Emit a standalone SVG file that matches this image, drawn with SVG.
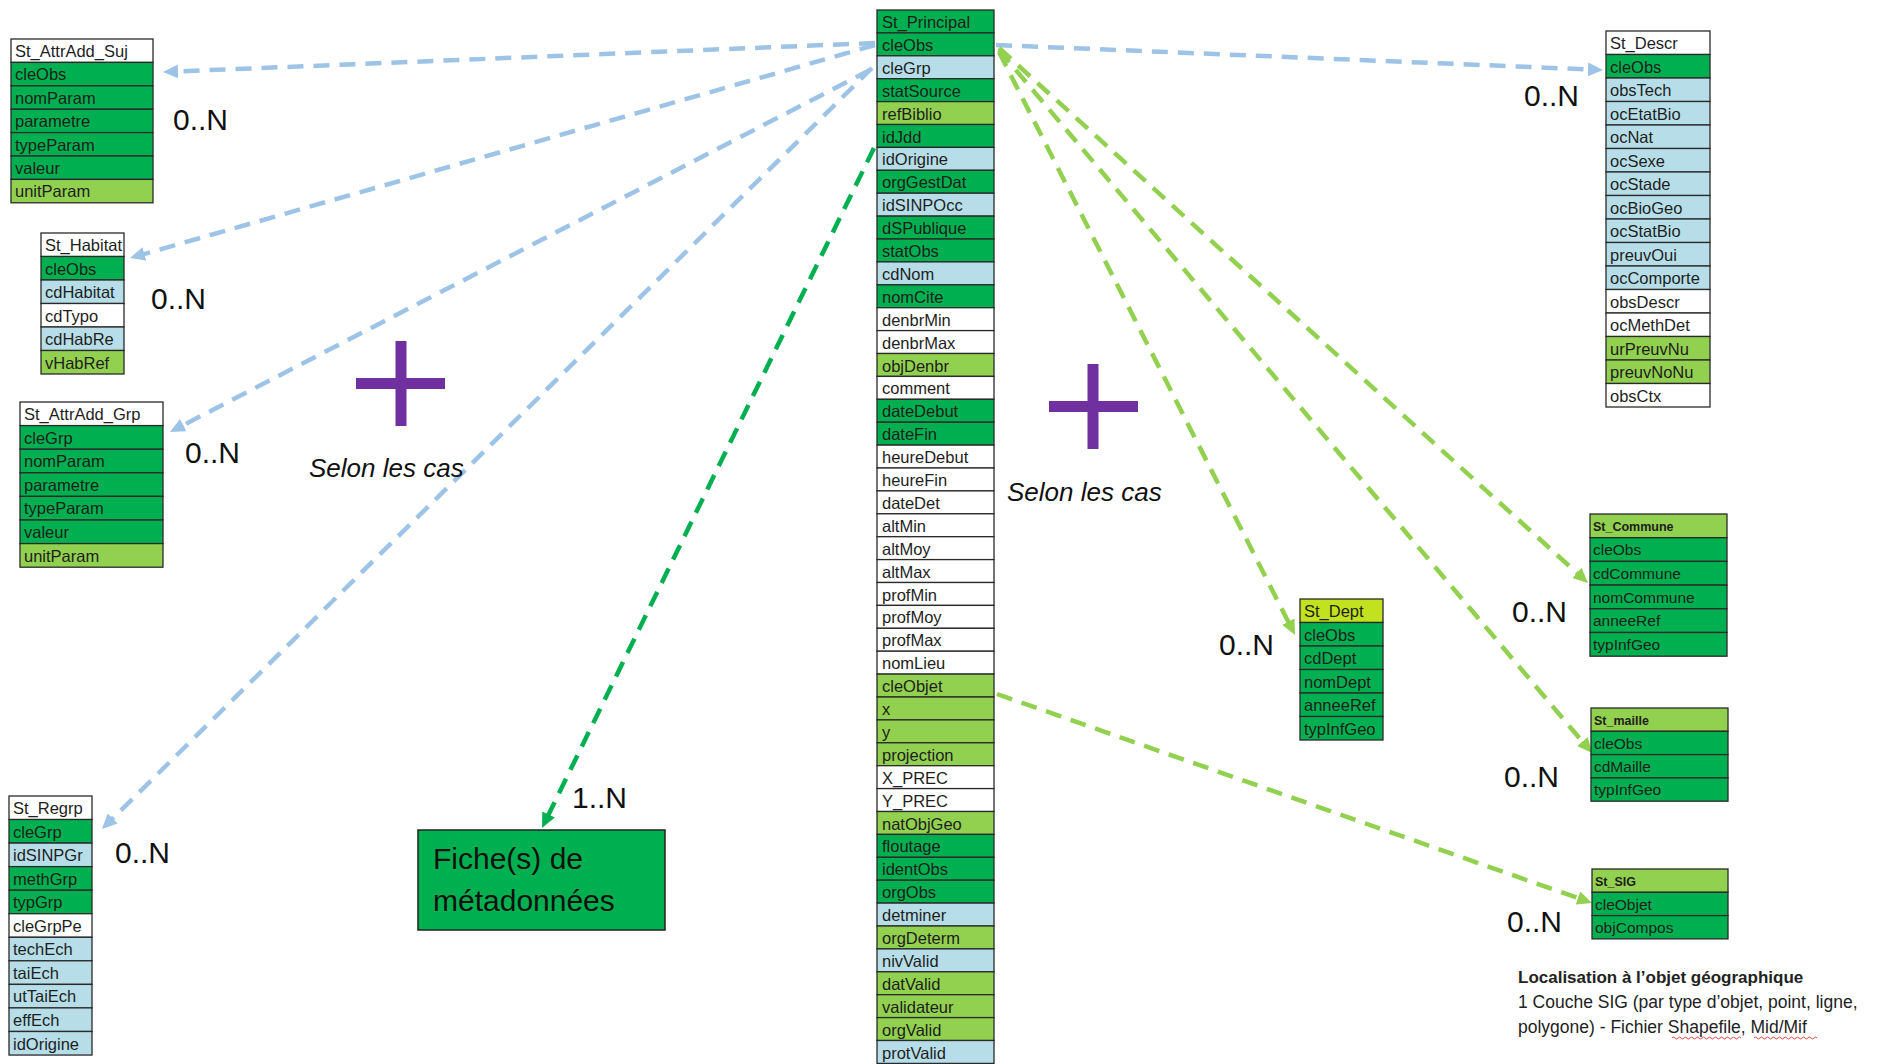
<svg xmlns="http://www.w3.org/2000/svg" width="1885" height="1064" viewBox="0 0 1885 1064">
<style>
.c rect{stroke:#2a2a2a;stroke-width:1.3}
.dg{fill:#00B050}.lg{fill:#92D050}.lb{fill:#B7DEE8}.wh{fill:#ffffff}.yg{fill:#C2E21F}
.c text{font-family:"Liberation Sans",Arial,sans-serif;font-size:16.5px;fill:#1e1e1e}
.k text{font-size:15.5px}
.k text.h{font-weight:bold;font-size:12.5px}
.card{font-family:"Liberation Sans",Arial,sans-serif;font-size:30px;fill:#111}
.sel{font-family:"Liberation Sans",Arial,sans-serif;font-size:26px;font-style:italic;fill:#111}
.plus{fill:#7030A0}
.bl{stroke:#9DC3E6;stroke-width:4.5;stroke-dasharray:16 10;fill:none}
.gr{stroke:#92D050;stroke-width:4.5;stroke-dasharray:16 10;fill:none}
.dk{stroke:#00B050;stroke-width:4.5;stroke-dasharray:16 10;fill:none}
.note{font-family:"Liberation Sans",Arial,sans-serif;font-size:17.5px;fill:#222}
</style>
<defs>
<marker id="ab" markerUnits="userSpaceOnUse" markerWidth="16" markerHeight="14" refX="5" refY="7" orient="auto"><path d="M0,0 L15,7 L0,14 Z" fill="#9DC3E6"/></marker>
<marker id="ag" markerUnits="userSpaceOnUse" markerWidth="16" markerHeight="14" refX="5" refY="7" orient="auto"><path d="M0,0 L15,7 L0,14 Z" fill="#92D050"/></marker>
<marker id="ad" markerUnits="userSpaceOnUse" markerWidth="16" markerHeight="14" refX="5" refY="7" orient="auto"><path d="M0,0 L15,7 L0,14 Z" fill="#00B050"/></marker>
</defs>
<rect width="1885" height="1064" fill="#ffffff"/>

<g id="connectors">
<line class="bl" x1="875" y1="43" x2="173" y2="71.6" marker-end="url(#ab)"/>
<line class="bl" x1="875" y1="45" x2="139.6" y2="255.3" marker-end="url(#ab)"/>
<line class="bl" x1="870" y1="70" x2="178.9" y2="427.4" marker-end="url(#ab)"/>
<line class="bl" x1="872" y1="68" x2="109.1" y2="822" marker-end="url(#ab)"/>
<line class="bl" x1="996" y1="45" x2="1593" y2="69.6" marker-end="url(#ab)"/>
<line class="gr" x1="999" y1="52" x2="1290.5" y2="626.1" marker-end="url(#ag)"/>
<line class="gr" x1="999" y1="48" x2="1580.6" y2="576.3" marker-end="url(#ag)"/>
<line class="gr" x1="999" y1="50" x2="1585.6" y2="745.4" marker-end="url(#ag)"/>
<line class="gr" x1="997" y1="694" x2="1582.6" y2="899.7" marker-end="url(#ag)"/>
<line class="dk" x1="874" y1="148" x2="546.4" y2="819" marker-end="url(#ad)"/>
</g>

<g id="St_Principal" class="c">
<rect class="dg" x="877" y="10" width="117" height="22.9"/><text x="882" y="28">St_Principal</text>
<rect class="dg" x="877" y="32.9" width="117" height="22.9"/><text x="882" y="50.9">cleObs</text>
<rect class="lb" x="877" y="55.8" width="117" height="22.9"/><text x="882" y="73.8">cleGrp</text>
<rect class="dg" x="877" y="78.7" width="117" height="22.9"/><text x="882" y="96.7">statSource</text>
<rect class="lg" x="877" y="101.6" width="117" height="22.9"/><text x="882" y="119.6">refBiblio</text>
<rect class="dg" x="877" y="124.5" width="117" height="22.9"/><text x="882" y="142.5">idJdd</text>
<rect class="lb" x="877" y="147.4" width="117" height="22.9"/><text x="882" y="165.4">idOrigine</text>
<rect class="dg" x="877" y="170.3" width="117" height="22.9"/><text x="882" y="188.3">orgGestDat</text>
<rect class="lb" x="877" y="193.2" width="117" height="22.9"/><text x="882" y="211.2">idSINPOcc</text>
<rect class="dg" x="877" y="216.1" width="117" height="22.9"/><text x="882" y="234.1">dSPublique</text>
<rect class="dg" x="877" y="239" width="117" height="22.9"/><text x="882" y="257">statObs</text>
<rect class="lb" x="877" y="261.9" width="117" height="22.9"/><text x="882" y="279.9">cdNom</text>
<rect class="dg" x="877" y="284.8" width="117" height="22.9"/><text x="882" y="302.8">nomCite</text>
<rect class="wh" x="877" y="307.7" width="117" height="22.9"/><text x="882" y="325.7">denbrMin</text>
<rect class="wh" x="877" y="330.6" width="117" height="22.9"/><text x="882" y="348.6">denbrMax</text>
<rect class="lg" x="877" y="353.5" width="117" height="22.9"/><text x="882" y="371.5">objDenbr</text>
<rect class="wh" x="877" y="376.4" width="117" height="22.9"/><text x="882" y="394.4">comment</text>
<rect class="dg" x="877" y="399.3" width="117" height="22.9"/><text x="882" y="417.3">dateDebut</text>
<rect class="dg" x="877" y="422.2" width="117" height="22.9"/><text x="882" y="440.2">dateFin</text>
<rect class="wh" x="877" y="445.1" width="117" height="22.9"/><text x="882" y="463.1">heureDebut</text>
<rect class="wh" x="877" y="468" width="117" height="22.9"/><text x="882" y="486">heureFin</text>
<rect class="wh" x="877" y="490.9" width="117" height="22.9"/><text x="882" y="508.9">dateDet</text>
<rect class="wh" x="877" y="513.8" width="117" height="22.9"/><text x="882" y="531.8">altMin</text>
<rect class="wh" x="877" y="536.7" width="117" height="22.9"/><text x="882" y="554.7">altMoy</text>
<rect class="wh" x="877" y="559.6" width="117" height="22.9"/><text x="882" y="577.6">altMax</text>
<rect class="wh" x="877" y="582.5" width="117" height="22.9"/><text x="882" y="600.5">profMin</text>
<rect class="wh" x="877" y="605.4" width="117" height="22.9"/><text x="882" y="623.4">profMoy</text>
<rect class="wh" x="877" y="628.3" width="117" height="22.9"/><text x="882" y="646.3">profMax</text>
<rect class="wh" x="877" y="651.2" width="117" height="22.9"/><text x="882" y="669.2">nomLieu</text>
<rect class="lg" x="877" y="674.1" width="117" height="22.9"/><text x="882" y="692.1">cleObjet</text>
<rect class="lg" x="877" y="697" width="117" height="22.9"/><text x="882" y="715">x</text>
<rect class="lg" x="877" y="719.9" width="117" height="22.9"/><text x="882" y="737.9">y</text>
<rect class="lg" x="877" y="742.8" width="117" height="22.9"/><text x="882" y="760.8">projection</text>
<rect class="wh" x="877" y="765.7" width="117" height="22.9"/><text x="882" y="783.7">X_PREC</text>
<rect class="wh" x="877" y="788.6" width="117" height="22.9"/><text x="882" y="806.6">Y_PREC</text>
<rect class="lg" x="877" y="811.5" width="117" height="22.9"/><text x="882" y="829.5">natObjGeo</text>
<rect class="dg" x="877" y="834.4" width="117" height="22.9"/><text x="882" y="852.4">floutage</text>
<rect class="dg" x="877" y="857.3" width="117" height="22.9"/><text x="882" y="875.3">identObs</text>
<rect class="dg" x="877" y="880.2" width="117" height="22.9"/><text x="882" y="898.2">orgObs</text>
<rect class="lb" x="877" y="903.1" width="117" height="22.9"/><text x="882" y="921.1">detminer</text>
<rect class="lg" x="877" y="926" width="117" height="22.9"/><text x="882" y="944">orgDeterm</text>
<rect class="lb" x="877" y="948.9" width="117" height="22.9"/><text x="882" y="966.9">nivValid</text>
<rect class="lg" x="877" y="971.8" width="117" height="22.9"/><text x="882" y="989.8">datValid</text>
<rect class="lg" x="877" y="994.7" width="117" height="22.9"/><text x="882" y="1012.7">validateur</text>
<rect class="lg" x="877" y="1017.6" width="117" height="22.9"/><text x="882" y="1035.6">orgValid</text>
<rect class="lb" x="877" y="1040.5" width="117" height="22.9"/><text x="882" y="1058.5">protValid</text>
</g>

<g id="St_AttrAdd_Suj" class="c">
<rect class="wh" x="11" y="39" width="142" height="23.4"/><text x="15" y="57">St_AttrAdd_Suj</text>
<rect class="dg" x="11" y="62.4" width="142" height="23.4"/><text x="15" y="80.4">cleObs</text>
<rect class="dg" x="11" y="85.8" width="142" height="23.4"/><text x="15" y="103.8">nomParam</text>
<rect class="dg" x="11" y="109.2" width="142" height="23.4"/><text x="15" y="127.2">parametre</text>
<rect class="dg" x="11" y="132.6" width="142" height="23.4"/><text x="15" y="150.6">typeParam</text>
<rect class="dg" x="11" y="156" width="142" height="23.4"/><text x="15" y="174">valeur</text>
<rect class="lg" x="11" y="179.4" width="142" height="23.4"/><text x="15" y="197.4">unitParam</text>
</g>

<g id="St_Habitat" class="c">
<rect class="wh" x="41" y="233" width="83" height="23.5"/><text x="45" y="251">St_Habitat</text>
<rect class="dg" x="41" y="256.5" width="83" height="23.5"/><text x="45" y="274.5">cleObs</text>
<rect class="lb" x="41" y="280" width="83" height="23.5"/><text x="45" y="298">cdHabitat</text>
<rect class="wh" x="41" y="303.5" width="83" height="23.5"/><text x="45" y="321.5">cdTypo</text>
<rect class="lb" x="41" y="327" width="83" height="23.5"/><text x="45" y="345">cdHabRe</text>
<rect class="lg" x="41" y="350.5" width="83" height="23.5"/><text x="45" y="368.5">vHabRef</text>
</g>

<g id="St_AttrAdd_Grp" class="c">
<rect class="wh" x="20" y="402" width="143" height="23.6"/><text x="24" y="420">St_AttrAdd_Grp</text>
<rect class="dg" x="20" y="425.6" width="143" height="23.6"/><text x="24" y="443.6">cleGrp</text>
<rect class="dg" x="20" y="449.2" width="143" height="23.6"/><text x="24" y="467.2">nomParam</text>
<rect class="dg" x="20" y="472.8" width="143" height="23.6"/><text x="24" y="490.8">parametre</text>
<rect class="dg" x="20" y="496.4" width="143" height="23.6"/><text x="24" y="514.4">typeParam</text>
<rect class="dg" x="20" y="520" width="143" height="23.6"/><text x="24" y="538">valeur</text>
<rect class="lg" x="20" y="543.6" width="143" height="23.6"/><text x="24" y="561.6">unitParam</text>
</g>

<g id="St_Regrp" class="c">
<rect class="wh" x="9" y="796" width="83" height="23.55"/><text x="13" y="814">St_Regrp</text>
<rect class="dg" x="9" y="819.5" width="83" height="23.55"/><text x="13" y="837.5">cleGrp</text>
<rect class="lb" x="9" y="843.1" width="83" height="23.55"/><text x="13" y="861.1">idSINPGr</text>
<rect class="dg" x="9" y="866.6" width="83" height="23.55"/><text x="13" y="884.6">methGrp</text>
<rect class="dg" x="9" y="890.2" width="83" height="23.55"/><text x="13" y="908.2">typGrp</text>
<rect class="wh" x="9" y="913.7" width="83" height="23.55"/><text x="13" y="931.7">cleGrpPe</text>
<rect class="lb" x="9" y="937.3" width="83" height="23.55"/><text x="13" y="955.3">techEch</text>
<rect class="lb" x="9" y="960.8" width="83" height="23.55"/><text x="13" y="978.8">taiEch</text>
<rect class="lb" x="9" y="984.4" width="83" height="23.55"/><text x="13" y="1002.4">utTaiEch</text>
<rect class="lb" x="9" y="1007.9" width="83" height="23.55"/><text x="13" y="1025.9">effEch</text>
<rect class="lb" x="9" y="1031.5" width="83" height="23.55"/><text x="13" y="1049.5">idOrigine</text>
</g>

<g id="St_Descr" class="c">
<rect class="wh" x="1606" y="31" width="104" height="23.5"/><text x="1610" y="49">St_Descr</text>
<rect class="dg" x="1606" y="54.5" width="104" height="23.5"/><text x="1610" y="72.5">cleObs</text>
<rect class="lb" x="1606" y="78" width="104" height="23.5"/><text x="1610" y="96">obsTech</text>
<rect class="lb" x="1606" y="101.5" width="104" height="23.5"/><text x="1610" y="119.5">ocEtatBio</text>
<rect class="lb" x="1606" y="125" width="104" height="23.5"/><text x="1610" y="143">ocNat</text>
<rect class="lb" x="1606" y="148.5" width="104" height="23.5"/><text x="1610" y="166.5">ocSexe</text>
<rect class="lb" x="1606" y="172" width="104" height="23.5"/><text x="1610" y="190">ocStade</text>
<rect class="lb" x="1606" y="195.5" width="104" height="23.5"/><text x="1610" y="213.5">ocBioGeo</text>
<rect class="lb" x="1606" y="219" width="104" height="23.5"/><text x="1610" y="237">ocStatBio</text>
<rect class="lb" x="1606" y="242.5" width="104" height="23.5"/><text x="1610" y="260.5">preuvOui</text>
<rect class="lb" x="1606" y="266" width="104" height="23.5"/><text x="1610" y="284">ocComporte</text>
<rect class="wh" x="1606" y="289.5" width="104" height="23.5"/><text x="1610" y="307.5">obsDescr</text>
<rect class="wh" x="1606" y="313" width="104" height="23.5"/><text x="1610" y="331">ocMethDet</text>
<rect class="lg" x="1606" y="336.5" width="104" height="23.5"/><text x="1610" y="354.5">urPreuvNu</text>
<rect class="lg" x="1606" y="360" width="104" height="23.5"/><text x="1610" y="378">preuvNoNu</text>
<rect class="wh" x="1606" y="383.5" width="104" height="23.5"/><text x="1610" y="401.5">obsCtx</text>
</g>

<g id="St_Commune" class="c k">
<rect class="lg" x="1590" y="514" width="137" height="23.7"/><text class="h" x="1593" y="531">St_Commune</text>
<rect class="dg" x="1590" y="537.7" width="137" height="23.7"/><text x="1593" y="555.2">cleObs</text>
<rect class="dg" x="1590" y="561.4" width="137" height="23.7"/><text x="1593" y="578.9">cdCommune</text>
<rect class="dg" x="1590" y="585.1" width="137" height="23.7"/><text x="1593" y="602.6">nomCommune</text>
<rect class="dg" x="1590" y="608.8" width="137" height="23.7"/><text x="1593" y="626.3">anneeRef</text>
<rect class="dg" x="1590" y="632.5" width="137" height="23.7"/><text x="1593" y="650">typInfGeo</text>
</g>

<g id="St_Dept" class="c">
<rect class="yg" x="1300" y="599" width="83" height="23.5"/><text x="1304" y="617">St_Dept</text>
<rect class="dg" x="1300" y="622.5" width="83" height="23.5"/><text x="1304" y="640.5">cleObs</text>
<rect class="dg" x="1300" y="646" width="83" height="23.5"/><text x="1304" y="664">cdDept</text>
<rect class="dg" x="1300" y="669.5" width="83" height="23.5"/><text x="1304" y="687.5">nomDept</text>
<rect class="dg" x="1300" y="693" width="83" height="23.5"/><text x="1304" y="711">anneeRef</text>
<rect class="dg" x="1300" y="716.5" width="83" height="23.5"/><text x="1304" y="734.5">typInfGeo</text>
</g>

<g id="St_maille" class="c k">
<rect class="lg" x="1591" y="708" width="137" height="23.3"/><text class="h" x="1594" y="725">St_maille</text>
<rect class="dg" x="1591" y="731.3" width="137" height="23.3"/><text x="1594" y="748.6">cleObs</text>
<rect class="dg" x="1591" y="754.6" width="137" height="23.3"/><text x="1594" y="771.9">cdMaille</text>
<rect class="dg" x="1591" y="777.9" width="137" height="23.3"/><text x="1594" y="795.2">typInfGeo</text>
</g>

<g id="St_SIG" class="c k">
<rect class="lg" x="1592" y="869" width="136" height="23.3"/><text class="h" x="1595" y="886">St_SIG</text>
<rect class="dg" x="1592" y="892.3" width="136" height="23.3"/><text x="1595" y="909.6">cleObjet</text>
<rect class="dg" x="1592" y="915.6" width="136" height="23.3"/><text x="1595" y="932.9">objCompos</text>
</g>

<g id="Fiche_metadonnees">
<rect x="418" y="830" width="247" height="100" fill="#00B050" stroke="#222" stroke-width="1.5"/>
<text class="card" x="433" y="869">Fiche(s) de</text>
<text class="card" x="433" y="911">métadonnées</text>
</g>

<g id="cardinalities">
<text class="card" x="173" y="130">0..N</text>
<text class="card" x="151" y="309">0..N</text>
<text class="card" x="185" y="463">0..N</text>
<text class="card" x="115" y="863">0..N</text>
<text class="card" x="1524" y="106">0..N</text>
<text class="card" x="1512" y="622">0..N</text>
<text class="card" x="1219" y="655">0..N</text>
<text class="card" x="1504" y="787">0..N</text>
<text class="card" x="1507" y="932">0..N</text>
<text class="card" x="572" y="808">1..N</text>
</g>

<g id="plus_left">
<rect class="plus" x="395.5" y="341" width="11" height="85"/>
<rect class="plus" x="356" y="378" width="89" height="11"/>
<text class="sel" x="309" y="477">Selon les cas</text>
</g>
<g id="plus_right">
<rect class="plus" x="1087.5" y="364" width="11" height="85"/>
<rect class="plus" x="1049" y="401" width="89" height="11"/>
<text class="sel" x="1007" y="501">Selon les cas</text>
</g>

<g id="note">
<text class="note" x="1518" y="983" font-weight="bold" style="font-size:17px">Localisation à l’objet géographique</text>
<text class="note" x="1518" y="1008">1 Couche SIG (par type d’objet, point, ligne,</text>
<text class="note" x="1518" y="1033">polygone) - Fichier Shapefile, Mid/Mif</text>
<path d="M1672,1038 q1.5,-2 3,0 t3,0 t3,0 t3,0 t3,0 t3,0 t3,0 t3,0 t3,0 t3,0 t3,0 t3,0 t3,0 t3,0 t3,0 t3,0 t3,0 t3,0 t3,0 t3,0 t3,0 t3,0 t3,0" fill="none" stroke="#e03030" stroke-width="0.9"/>
<path d="M1754,1038 q1.5,-2 3,0 t3,0 t3,0 t3,0 t3,0 t3,0 t3,0 t3,0 t3,0 t3,0 t3,0 t3,0 t3,0 t3,0 t3,0 t3,0 t3,0 t3,0 t3,0 t3,0 t3,0" fill="none" stroke="#e03030" stroke-width="0.9"/>
</g>
</svg>
